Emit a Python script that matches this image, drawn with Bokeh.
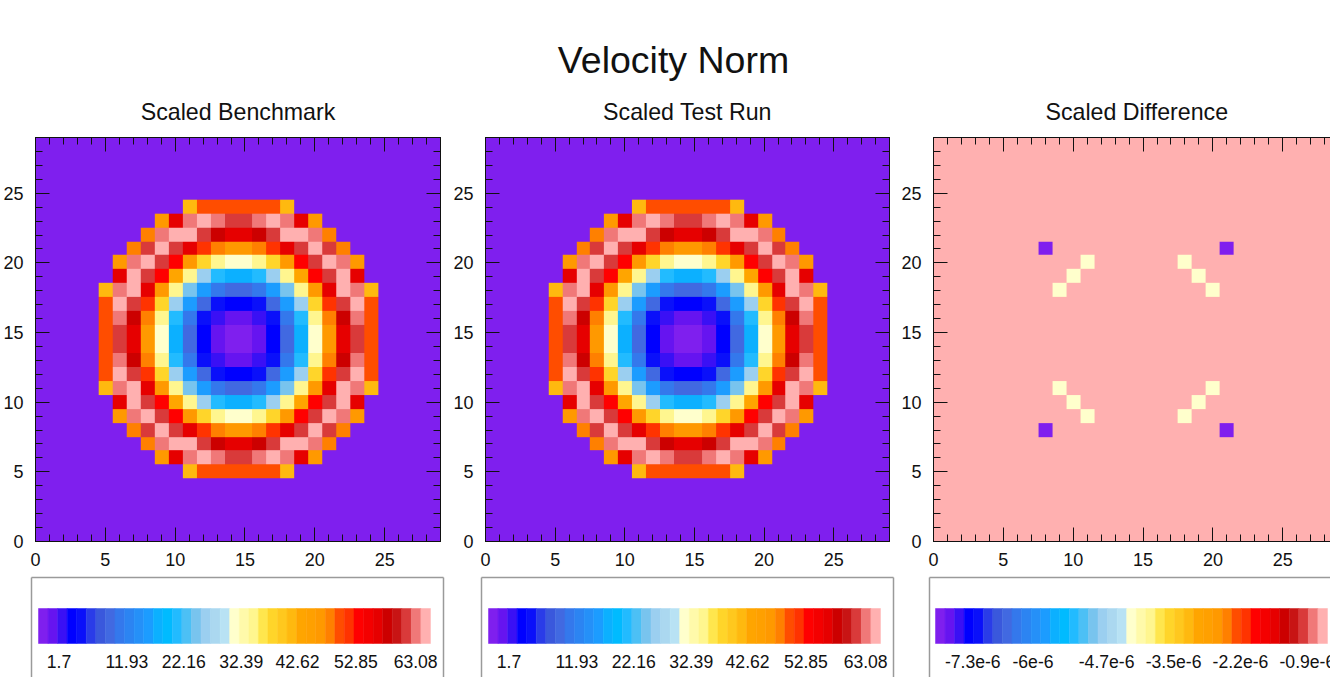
import numpy as np
from bokeh.core.properties import value
from bokeh.embed import file_html
from bokeh.layouts import column, row
from bokeh.models import FixedTicker, LinearAxis, LinearColorMapper, Range1d, SingleIntervalTicker
from bokeh.plotting import figure
from bokeh.resources import INLINE

FONT = "Liberation Sans"
PAGE_W, PAGE_H = 1330, 677
HEAD_H = 87

main_title = "Velocity Norm"
panel_titles = ["Scaled Benchmark", "Scaled Test Run", "Scaled Difference"]

palette = [
    "#7F1FEE", "#6614F0", "#3A10F5", "#0000FF", "#0A10FA", "#2A3CE8", "#3A58DC", "#4169E1",
    "#3478EC", "#2C84F2", "#2590F8", "#1C9CFF", "#0CB0FF", "#00BBFF", "#22BBFF", "#4CC0F5",
    "#78C4EE", "#9BCFF0", "#ABD8F0", "#B8E2F4", "#FFFFCC", "#FFFAAA", "#FFF68F", "#FFE64D",
    "#FFD52A", "#FFC81E", "#FFB90F", "#FFA500", "#FFA000", "#FF9900", "#FF8000", "#FF4D00",
    "#FF3300", "#FF0000", "#F40000", "#E60000", "#CC0000", "#C81414", "#D93A3A", "#F07878",
    "#FFB0B0",
]

# Upper-left quarter of the velocity ring, x = 5..14, y = 24..15
bg = 1.7
quarter = [
    [bg, bg, bg, bg, bg, bg, 46.9, 55.4, 55.4, 55.4],
    [bg, bg, bg, bg, 52.0, 62.2, 69.0, 70.7, 69.0, 67.3],
    [bg, bg, bg, 53.7, 69.0, 70.7, 70.7, 67.3, 63.9, 62.2],
    [bg, bg, 53.7, 67.3, 70.7, 67.3, 62.2, 57.1, 53.7, 52.0],
    [bg, 52.0, 69.0, 70.7, 67.3, 58.8, 52.0, 43.5, 40.0, 36.6],
    [bg, 62.2, 70.7, 67.3, 58.8, 48.6, 40.0, 31.5, 26.4, 23.0],
    [46.9, 69.0, 70.7, 62.2, 52.0, 40.0, 29.8, 21.3, 16.2, 14.5],
    [55.4, 70.7, 67.3, 57.1, 43.5, 31.5, 21.3, 14.5, 9.4, 7.7],
    [55.4, 69.0, 63.9, 53.7, 40.0, 26.4, 16.2, 9.4, 6.0, 4.3],
    [55.4, 67.3, 62.2, 52.0, 36.6, 23.0, 14.5, 7.7, 4.3, 2.6],
]
low_norm, high_norm = 1.7, 71.6
norm_labels = ["1.7", "11.93", "22.16", "32.39", "42.62", "52.85", "63.08"]

diff_bg = 1.3e-6
diff_low_value = -7.25e-6
diff_mid_value = -2.95e-6
diff_low_cells = [(8, 21), (21, 21), (8, 8), (21, 8)]
diff_mid_cells = [(11, 20), (10, 19), (9, 18), (18, 20), (19, 19), (20, 18),
                  (9, 11), (10, 10), (11, 9), (20, 11), (19, 10), (18, 9)]
low_diff, high_diff = -7.3e-6, 1.45e-6
diff_labels = ["-7.3e-6", "-6e-6", "-4.7e-6", "-3.5e-6", "-2.2e-6", "-0.9e-6"]

# label centres along the bar, in colour-bin units
norm_label_bins = [2.15, 9.25, 15.2, 21.2, 27.1, 33.2, 39.45]
diff_label_bins = [3.9, 10.2, 17.9, 24.9, 31.9, 38.9]

N = 30
top_left = np.array(quarter)
top = np.hstack([top_left, top_left[:, ::-1]])
block = np.vstack([top, top[::-1]])
norm_grid = np.full((N, N), bg)
norm_grid[5:25, 5:25] = block[::-1]
diff_grid = np.full((N, N), diff_bg)
for cx, cy in diff_low_cells:
    diff_grid[cy, cx] = diff_low_value
for cx, cy in diff_mid_cells:
    diff_grid[cy, cx] = diff_mid_value


def panel(grid, low, high, title, frame_w, border_l, border_r, x_end, with_right, title_left=None):
    p = figure(frame_width=frame_w, frame_height=404, min_border_left=border_l,
               min_border_right=border_r, min_border_top=47, min_border_bottom=29,
               x_range=Range1d(0, x_end), y_range=Range1d(0, 29),
               toolbar_location=None, output_backend="svg", x_axis_type=None, y_axis_type=None,
               background_fill_color="white", border_fill_color="white",
               outline_line_color="#111111" if with_right else None)
    p.grid.visible = False
    mapper = LinearColorMapper(palette=palette, low=low, high=high)
    p.image(image=[grid], x=-0.5, y=-0.5, dw=N, dh=N, color_mapper=mapper)

    def axis(place, labelled, standoff=0):
        ax = LinearAxis(ticker=SingleIntervalTicker(interval=5, num_minor_ticks=5))
        ax.major_tick_in = 14
        ax.major_tick_out = 0
        ax.minor_tick_in = 7
        ax.minor_tick_out = 0
        ax.major_tick_line_color = "#111111"
        ax.minor_tick_line_color = "#111111"
        ax.axis_line_color = "#111111"
        ax.major_label_standoff = standoff
        ax.major_label_text_font = FONT
        ax.major_label_text_font_size = "18px" if labelled else "1px"
        ax.major_label_text_color = "#111111" if labelled else None
        p.add_layout(ax, place)

    axis("left", True, 12)
    axis("below", True, 11)
    axis("above", False)
    if with_right:
        axis("right", False)
    p.title.text = title
    p.title.text_font = FONT
    p.title.text_font_size = "23.2px"
    p.title.text_font_style = "normal"
    p.title.text_color = "#111111"
    p.title.vertical_align = "middle"
    p.title.standoff = 24
    if title_left is None:
        p.title.align = "center"
    else:
        p.title.align = "left"
        p.title.offset = title_left
    return p


def colorbar(labels, bins, border_l, border_r, frame_w, bar_offset, with_right):
    bin_px = 9.56
    p = figure(frame_width=frame_w, frame_height=100, min_border_left=border_l,
               min_border_right=border_r, min_border_top=7, min_border_bottom=0,
               x_range=Range1d(-bar_offset / bin_px, (frame_w - bar_offset) / bin_px),
               y_range=Range1d(100, 0),
               toolbar_location=None, output_backend="svg", x_axis_type=None, y_axis_type=None,
               background_fill_color="white", border_fill_color="white", outline_line_color=None)
    p.grid.visible = False
    idx = np.arange(len(palette))
    p.quad(left=idx, right=idx + 1, top=31, bottom=66, fill_color=palette, line_color=palette, line_width=0.5)
    p.text(x=bins, y=[84] * len(bins), text=labels, text_align="center", text_baseline="middle",
           text_font=value(FONT), text_font_size="17.6px", text_color="#111111")
    places = ["left", "above"] + (["right"] if with_right else [])
    for place in places:
        ax = LinearAxis(ticker=FixedTicker(ticks=[]))
        ax.axis_line_color = "#9a9a9a"
        ax.axis_line_width = 1.5
        ax.major_label_text_font_size = "1px"
        ax.major_label_standoff = 0
        p.add_layout(ax, place)
    return p


head = figure(width=PAGE_W, height=HEAD_H - 2, min_border=0, x_range=Range1d(0, PAGE_W), y_range=Range1d(HEAD_H - 2, 0),
              toolbar_location=None, output_backend="svg", x_axis_type=None, y_axis_type=None,
              outline_line_color=None, background_fill_color="white", border_fill_color="white")
head.grid.visible = False
head.text(x=[673], y=[59], text=[main_title], text_align="center", text_baseline="middle",
          text_font=value(FONT), text_font_size="37.5px", text_color="#111111")

p1 = panel(norm_grid, low_norm, high_norm, panel_titles[0], 405, 35, 10, 29, True)
p2 = panel(norm_grid, low_norm, high_norm, panel_titles[1], 404, 35, 9, 29, True)
p3 = panel(diff_grid, low_diff, high_diff, panel_titles[2], 397, 35, 0, 397 / 13.97, False, title_left=112)

c1 = colorbar(norm_labels, norm_label_bins, 31, 19, 412, 7, True)
c2 = colorbar(norm_labels, norm_label_bins, 19, 18, 412, 7, True)
c3 = colorbar(diff_labels, diff_label_bins, 18, 0, 401, 6, False)

page = column(head, row(p1, p2, p3), row(c1, c2, c3),
              styles={"position": "absolute", "left": "0px", "top": "0px"})

open("out.html", "w").write(file_html(page, INLINE))
